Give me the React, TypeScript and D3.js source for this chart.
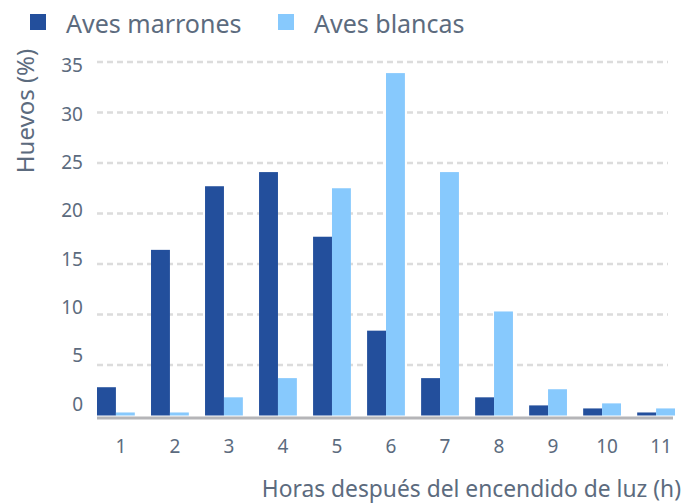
import React, { useEffect, useRef } from 'react';
import * as d3 from 'd3';

const hours = ['1', '2', '3', '4', '5', '6', '7', '8', '9', '10', '11'];
const brown = [2.8, 16.4, 22.7, 24.1, 17.7, 8.4, 3.7, 1.8, 1.0, 0.7, 0.3];
const white = [0.3, 0.3, 1.8, 3.7, 22.5, 33.9, 24.1, 10.3, 2.6, 1.2, 0.7];
const seriesNames = ['Aves marrones', 'Aves blancas'];
const yTicks = [0, 5, 10, 15, 20, 25, 30, 35];

const colors = ['#234f9c', '#87c9fd'];
const textColor = '#5c6b7e';
const font = '"Noto Sans", sans-serif';

const Chart = ({ width = 700, height = 503 }) => {
  const ref = useRef<SVGSVGElement>(null);

  useEffect(() => {
    const svg = d3.select(ref.current);
    svg.selectAll('*').remove();
    svg.attr('width', width).attr('height', height);

    const left = 97, right = 675, top = 62, bottom = 415.5;

    const y = d3.scaleLinear().domain([0, 35]).range([bottom, top]);
    // tick labels sit a bit off the gridlines in the original
    const yLabel = d3.scaleLinear().domain([0, 35]).range([404, 65.5]);
    const x = d3.scaleBand().domain(hours).range([left, right]).paddingInner(0.3).paddingOuter(0);
    const xs = d3.scaleBand().domain(['0', '1']).range([0, x.bandwidth()]);

    // grid
    svg.append('g')
      .selectAll('line')
      .data(yTicks.filter((d) => d > 0))
      .join('line')
      .attr('x1', left)
      .attr('x2', 668)
      .attr('y1', (d) => y(d))
      .attr('y2', (d) => y(d))
      .attr('stroke', '#dcdcdc')
      .attr('stroke-width', 2.5)
      .attr('stroke-dasharray', '6 4');

    // bars
    const groups = svg.append('g')
      .selectAll('g')
      .data(hours)
      .join('g')
      .attr('transform', (d) => `translate(${x(d)},0)`);

    groups.selectAll('rect')
      .data((d, i) => [brown[i], white[i]])
      .join('rect')
      .attr('x', (d, j) => xs(String(j))!)
      .attr('width', xs.bandwidth())
      .attr('y', (d) => y(d))
      .attr('height', (d) => bottom - y(d))
      .attr('fill', (d, j) => colors[j]);

    // baseline
    svg.append('line')
      .attr('x1', left)
      .attr('x2', right - 2)
      .attr('y1', bottom + 2.5)
      .attr('y2', bottom + 2.5)
      .attr('stroke', '#b5b5b8')
      .attr('stroke-width', 3);

    // y tick labels
    svg.append('g')
      .selectAll('text')
      .data(yTicks)
      .join('text')
      .attr('x', 83)
      .attr('y', (d) => yLabel(d))
      .attr('dy', '0.36em')
      .attr('text-anchor', 'end')
      .attr('font-family', font)
      .attr('font-size', 19)
      .attr('fill', textColor)
      .text((d) => d);

    // x tick labels
    svg.append('g')
      .selectAll('text')
      .data(hours)
      .join('text')
      .attr('x', (d) => x(d)! + x.bandwidth() / 2 + 5)
      .attr('y', 453)
      .attr('text-anchor', 'middle')
      .attr('font-family', font)
      .attr('font-size', 19)
      .attr('fill', textColor)
      .text((d) => d);

    // axis titles
    svg.append('text')
      .attr('x', 681)
      .attr('y', 497)
      .attr('text-anchor', 'end')
      .attr('font-family', font)
      .attr('font-size', 22.8)
      .attr('fill', textColor)
      .text('Horas después del encendido de luz (h)');

    svg.append('text')
      .attr('transform', 'translate(34,111) rotate(-90)')
      .attr('text-anchor', 'middle')
      .attr('font-family', font)
      .attr('font-size', 24)
      .attr('fill', textColor)
      .text('Huevos (%)');

    // legend
    const legendX = [30, 278];
    const legend = svg.append('g')
      .selectAll('g')
      .data(seriesNames)
      .join('g')
      .attr('transform', (d, i) => `translate(${legendX[i]},14)`);
    legend.append('rect')
      .attr('width', 16)
      .attr('height', 16)
      .attr('fill', (d, i) => colors[i]);
    legend.append('text')
      .attr('x', 36)
      .attr('y', 19)
      .attr('font-family', font)
      .attr('font-size', 25)
      .attr('fill', textColor)
      .text((d) => d);
  }, [width, height]);

  return <svg ref={ref} style={{ position: 'absolute', left: 0, top: 0 }}></svg>;
};

export default function App() {
  return <Chart />;
}
